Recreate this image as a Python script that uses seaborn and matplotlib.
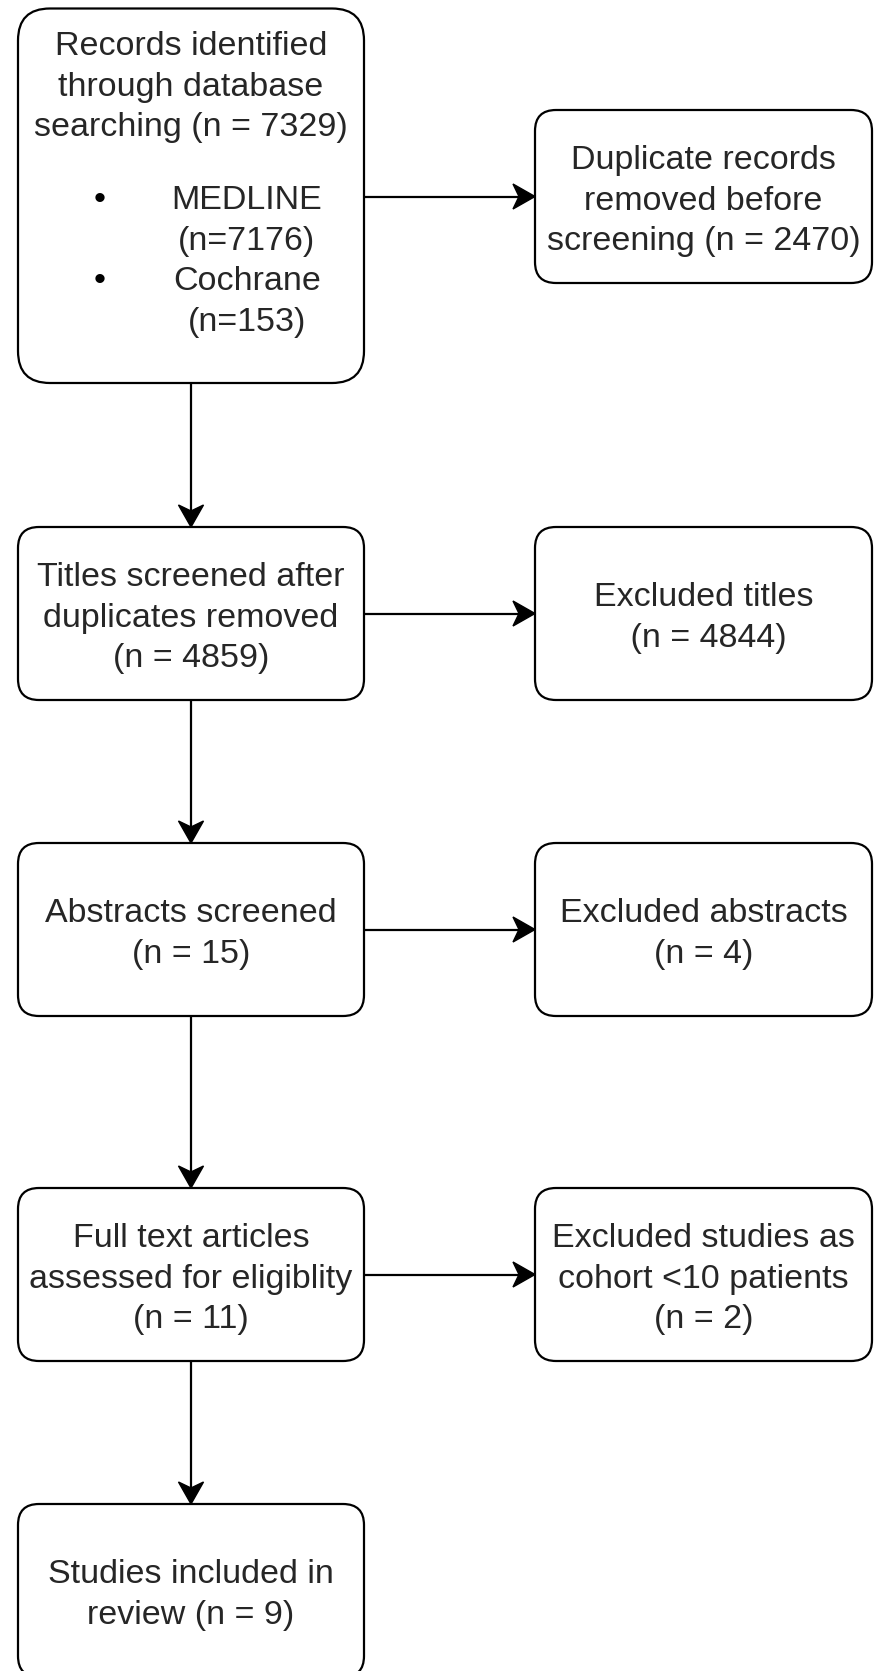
import matplotlib
matplotlib.use("Agg")
import matplotlib.pyplot as plt
from matplotlib.patches import FancyBboxPatch, Polygon
import seaborn as sns

# flow chart content
main_text = [
    ["Records identified", "through database", "searching (n = {})"],
    ["Titles screened after", "duplicates removed", "(n = {})"],
    ["Abstracts screened", "(n = {})"],
    ["Full text articles", "assessed for eligiblity", "(n = {})"],
    ["Studies included in", "review (n = {})"],
]
main_n = [7329, 4859, 15, 11, 9]

excluded_text = [
    ["Duplicate records", "removed before", "screening (n = {})"],
    ["Excluded titles", " (n = {})"],
    ["Excluded abstracts", "(n = {})"],
    ["Excluded studies as", "cohort <10 patients", "(n = {})"],
]
excluded_n = [2470, 4844, 4, 2]

databases = ["MEDLINE", "Cochrane"]
database_n = [7176, 153]

# layout (pixels, y downwards)
W, H = 874, 1671
left_x = (18, 364)
right_x = (535, 872)
left_tops = [8.5, 527, 843, 1188, 1504]
left_heights = [374.5, 173, 173, 173, 173]
right_tops = [110, 527, 843, 1188]
right_height = 173
line_step = 40.5
font_px = 34
text_color = "#262626"

sns.set_theme(style="white")
plt.rcParams["font.family"] = ["Liberation Sans", "DejaVu Sans"]

fig = plt.figure(figsize=(W / 100, H / 100), dpi=100)
ax = fig.add_axes([0, 0, 1, 1])
ax.set_xlim(0, W)
ax.set_ylim(H, 0)
ax.axis("off")

fs = font_px * 72 / 100


def draw_box(x0, x1, top, height, radius):
    patch = FancyBboxPatch((x0, top), x1 - x0, height,
                           boxstyle=f"round,pad=0,rounding_size={radius}",
                           facecolor="white", edgecolor="black", linewidth=1.6)
    ax.add_patch(patch)


def draw_lines(lines, cx, cy):
    # cy is the visual centre of the block of lines
    first = cy - line_step * (len(lines) - 1) / 2
    for i, line in enumerate(lines):
        ax.text(cx, first + i * line_step + 0.36 * font_px, line,
                ha="center", va="baseline", fontsize=fs, color=text_color)


def draw_arrow(x0, y0, x1, y1, head_len=22, head_w=25, notch=6):
    dx, dy = x1 - x0, y1 - y0
    length = (dx ** 2 + dy ** 2) ** 0.5
    ux, uy = dx / length, dy / length
    px, py = -uy, ux
    bx, by = x1 - ux * head_len, y1 - uy * head_len
    ax.plot([x0, bx + ux * notch], [y0, by + uy * notch], color="black", lw=1.6,
            solid_capstyle="butt")
    head = Polygon([(x1, y1),
                    (bx + px * head_w / 2, by + py * head_w / 2),
                    (bx + ux * notch, by + uy * notch),
                    (bx - px * head_w / 2, by - py * head_w / 2)],
                   closed=True, facecolor="black", edgecolor="black", lw=1.0)
    ax.add_patch(head)


left_cx = (left_x[0] + left_x[1]) / 2
right_cx = (right_x[0] + right_x[1]) / 2

# vertical arrows between main steps
for i in range(len(left_tops) - 1):
    draw_arrow(left_cx, left_tops[i] + left_heights[i], left_cx, left_tops[i + 1])

# horizontal arrows to exclusion boxes
for top in right_tops:
    cy = top + right_height / 2
    draw_arrow(left_x[1], cy, right_x[0], cy)

# main boxes
for i, lines in enumerate(main_text):
    radius = 32 if i == 0 else 21
    draw_box(left_x[0], left_x[1], left_tops[i], left_heights[i], radius)
    text = [ln.format(main_n[i]) for ln in lines]
    if i == 0:
        draw_lines(text, left_cx, 43 + line_step)
        sub = []
        for name, n in zip(databases, database_n):
            sub += [name, f"(n={n})"]
        first = 197
        for j, line in enumerate(sub):
            y = first + j * line_step + 0.36 * font_px
            ax.text(247, y, line, ha="center", va="baseline", fontsize=fs,
                    color=text_color)
            if j % 2 == 0:
                ax.text(100, y, "\u2022", ha="center", va="baseline", fontsize=fs,
                        color="black")
    else:
        draw_lines(text, left_cx, left_tops[i] + left_heights[i] / 2 + 1)

# exclusion boxes
for i, lines in enumerate(excluded_text):
    draw_box(right_x[0], right_x[1], right_tops[i], right_height, 21)
    text = [ln.format(excluded_n[i]) for ln in lines]
    draw_lines(text, right_cx, right_tops[i] + right_height / 2 + 1)

fig.savefig("out.png", dpi=100, facecolor="white")
